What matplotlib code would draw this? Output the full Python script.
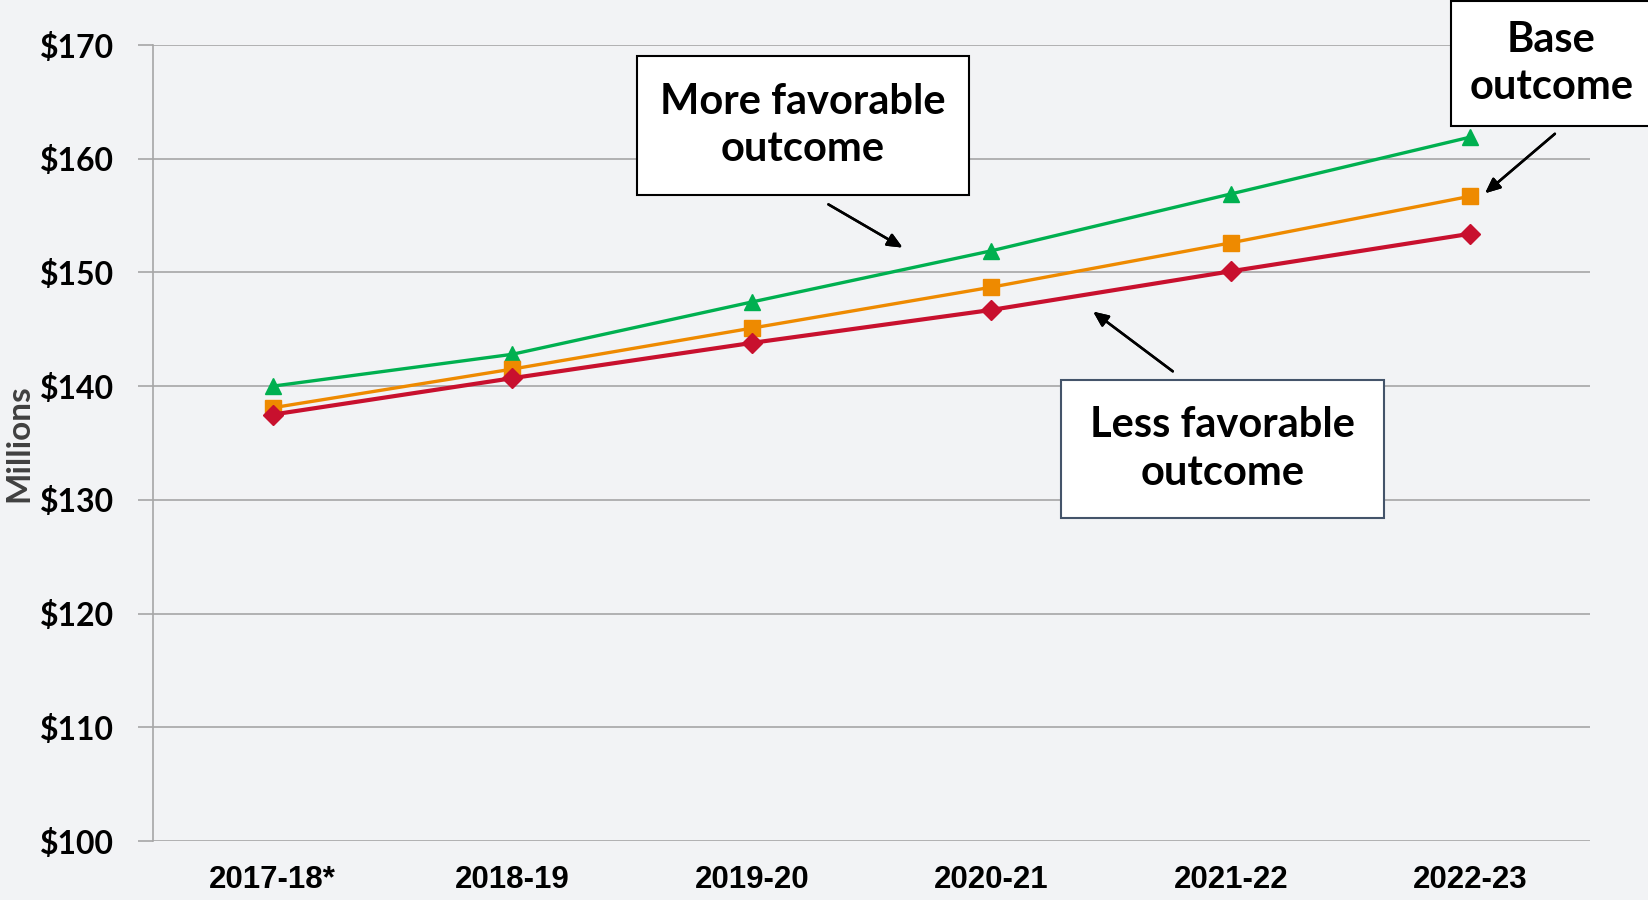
import matplotlib.pyplot as plt
from matplotlib.patches import Rectangle

years = ['2017-18*', '2018-19', '2019-20', '2020-21', '2021-22', '2022-23']
more_favorable = [140.0, 142.8, 147.4, 151.9, 156.9, 161.9]
base = [138.1, 141.5, 145.1, 148.7, 152.6, 156.7]
less_favorable = [137.5, 140.7, 143.8, 146.7, 150.1, 153.4]
y_ticks = [100, 110, 120, 130, 140, 150, 160, 170]

bg = '#F2F3F5'
W, H = 1648, 900

fig = plt.figure(figsize=(W / 100, H / 100), dpi=100, facecolor=bg)
ax = fig.add_axes([153 / W, 1 - 841 / H, 1437 / W, 796 / H], facecolor=bg)

x = range(len(years))
ax.plot(x, more_favorable, color='#00B050', lw=2.4, marker='^', ms=11, zorder=3)
ax.plot(x, base, color='#EE8A00', lw=2.4, marker='s', ms=11, zorder=4)
ax.plot(x, less_favorable, color='#C8102E', lw=3.0, marker='D', ms=10, zorder=5)

ax.set_xlim(-0.5, len(years) - 0.5)
ax.set_ylim(100, 170)
ax.set_yticks(y_ticks)
ax.set_yticklabels(['$%d' % v for v in y_ticks], fontsize=23, fontweight='bold',
                   family=['Lato', 'DejaVu Sans'])
ax.set_xticks(list(x))
ax.set_xticklabels(years, fontsize=22.5, fontweight='bold',
                   family=['Liberation Sans Narrow', 'Liberation Sans', 'DejaVu Sans'])
ax.tick_params(axis='x', length=0, pad=17)
ax.tick_params(axis='y', length=11, color='#A6A6A6', width=1.2, pad=17)
ax.grid(axis='y', color='#A6A6A6', lw=1.2)
ax.set_axisbelow(True)
for s in ['top', 'right', 'bottom']:
    ax.spines[s].set_visible(False)
ax.spines['left'].set_color('#A6A6A6')
ax.spines['left'].set_linewidth(1.2)

fig.text(19 / W, 1 - 443 / H, 'Millions', rotation=90, ha='center', va='center',
         fontsize=24, fontweight='bold', color='#404040', family=['Lato', 'DejaVu Sans'])


def fx(px):
    return px / W


def fy(py):
    return 1 - py / H


def label_box(x0, x1, y0, y1, text, edge):
    fig.add_artist(Rectangle((fx(x0), fy(y1)), fx(x1) - fx(x0), fy(y0) - fy(y1),
                             transform=fig.transFigure, facecolor='white',
                             edgecolor=edge, lw=1.5, zorder=6))
    fig.text(fx((x0 + x1) / 2), fy((y0 + y1) / 2), text, ha='center', va='center',
             fontsize=30, fontweight='bold', linespacing=1.32,
             family=['Lato', 'DejaVu Sans'], zorder=7)


def arrow(x0, y0, x1, y1):
    fig.add_artist(plt.annotate('', xy=(fx(x1), fy(y1)), xytext=(fx(x0), fy(y0)),
                                xycoords='figure fraction', textcoords='figure fraction',
                                arrowprops=dict(arrowstyle='-|>,head_length=0.9,head_width=0.4',
                                                color='black', lw=1.8)))


label_box(637, 969, 56, 195, 'More favorable\noutcome', 'black')
label_box(1451, 1652, 1, 126, 'Base\noutcome', 'black')
label_box(1061, 1384, 380, 518, 'Less favorable\noutcome', '#44546A')

arrow(826, 203, 905, 249)
arrow(1557, 132, 1483, 195)
arrow(1175, 373, 1091, 310)

fig.savefig('out.png', dpi=100, facecolor=bg)
